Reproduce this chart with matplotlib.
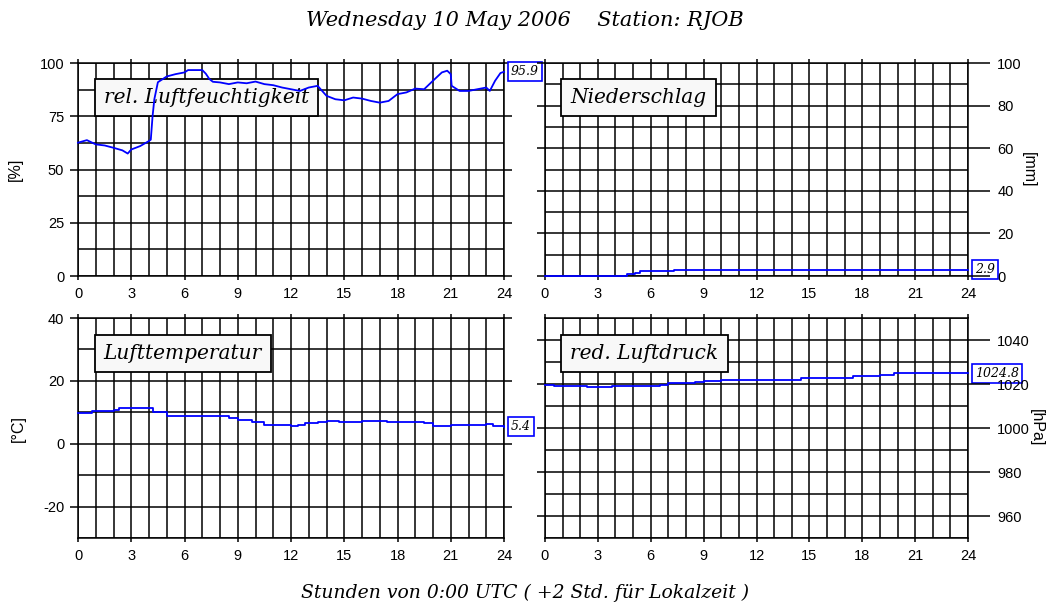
import matplotlib.pyplot as plt

plt.rcParams['axes.unicode_minus'] = False

# relative humidity [%]
rh_hours = [0, 0.5, 1, 1.5, 2, 2.5, 2.8, 3, 3.5, 4, 4.1, 4.2, 4.3, 4.5, 5, 5.5, 6, 6.2,
            7.0, 7.2, 7.4, 7.6, 8, 8.5, 9, 9.5, 10, 10.5, 11, 11.5, 12, 12.5, 13, 13.5,
            14, 14.5, 15, 15.5, 16, 16.5, 17, 17.5, 18, 18.5, 19, 19.5, 20, 20.5, 20.8,
            21, 21.05, 21.5, 22, 22.5, 23, 23.2, 23.5, 23.8, 24]
rh_vals = [62.6, 63.8, 61.8, 61.3, 60.2, 59.0, 57.5, 59.4, 61.0, 63.4, 64.0, 75.0, 83.0,
           91.0, 93.7, 94.8, 95.6, 96.7, 96.7, 95.0, 92.5, 91.2, 90.9, 90.1, 90.9, 90.5,
           91.3, 90.1, 89.6, 88.5, 87.7, 86.9, 88.5, 89.3, 84.6, 83.0, 82.5, 83.8, 83.3,
           82.2, 81.4, 82.2, 85.4, 86.2, 88.0, 87.7, 91.7, 95.6, 96.4, 94.8, 89.3, 86.9,
           86.9, 87.7, 88.5, 86.9, 91.7, 95.3, 95.9]

# accumulated precipitation [mm]
rr_hours = [0, 4.5, 4.65, 5.1, 5.4, 7.3, 24]
rr_vals = [0.0, 0.0, 0.9, 1.6, 2.4, 2.9, 2.9]

# air temperature [degC]
t_hours = [0, 0.8, 2, 2.3, 4, 4.2, 5, 8, 8.5, 9, 9.8, 10.5, 11.8, 12, 12.4, 12.8, 13.5,
           14, 14.7, 16, 17.4, 19.5, 20, 21, 23, 23.4, 24]
t_vals = [9.9, 10.5, 10.7, 11.3, 11.3, 10.2, 8.9, 8.9, 8.3, 7.7, 6.9, 6.1, 6.1, 5.5, 6.1,
          6.6, 6.9, 7.3, 6.8, 7.2, 6.9, 6.7, 5.6, 6.0, 6.3, 5.8, 5.4]

# reduced air pressure [hPa]
p_hours = [0, 0.5, 2.4, 3.8, 6.5, 7, 8.5, 9, 10, 14.5, 17.5, 19, 19.8, 24]
p_vals = [1019.7, 1018.9, 1018.5, 1018.9, 1019.7, 1020.3, 1021.1, 1021.5, 1021.8,
          1022.9, 1023.5, 1024.3, 1025.1, 1024.8]

hour_ticks = list(range(0, 25, 3))

fig = plt.figure(figsize=(10.5, 6.05), dpi=100)
serif = 'DejaVu Serif'
sans = 'Liberation Sans'


def setup(rect, ylim, major, minor, side, ylabel, title, x, vals, steps):
    ax = fig.add_axes(rect)
    ax.set_xlim(0, 24)
    ax.set_ylim(*ylim)
    ax.set_xticks(hour_ticks)
    ax.set_xticks(range(25), minor=True)
    ax.set_yticks(major)
    ax.set_yticks(minor, minor=True)
    ax.grid(True, which='both', color='black', lw=1.1)
    ax.set_axisbelow(True)
    for s in ax.spines.values():
        s.set_linewidth(1.1)
    ax.tick_params(axis='x', which='major', top=True, bottom=True, direction='out',
                   length=3, width=1.1, pad=5, labelsize=10.5)
    ax.tick_params(axis='x', which='minor', length=0)
    ax.tick_params(axis='y', which='minor', length=0)
    for lab in ax.get_xticklabels():
        lab.set_family(sans)

    if side == 'left':
        ax.tick_params(axis='y', which='major', left=True, right=True, direction='out',
                       length=6, width=1.1, pad=4, labelsize=10.5)
        for lab in ax.get_yticklabels():
            lab.set_family(sans)
        ax.set_ylabel(ylabel, family=sans, fontsize=11.5, labelpad=12)
    else:
        ax.tick_params(axis='y', which='major', left=True, right=False, direction='out',
                       length=6, width=1.1, labelleft=False)
        tw = ax.twinx()
        tw.set_ylim(*ylim)
        tw.set_yticks(major)
        tw.tick_params(axis='y', direction='out', length=16, width=1.1, pad=5,
                       labelsize=10.5)
        for lab in tw.get_yticklabels():
            lab.set_family(sans)
        for s in tw.spines.values():
            s.set_visible(False)
        tw.set_ylabel(ylabel, family=sans, fontsize=11.5, rotation=-90, labelpad=10)

    ax.text(0.06, 0.84, title, transform=ax.transAxes, family=serif, style='italic',
            fontsize=14.5, ha='left', va='center', zorder=4,
            bbox=dict(boxstyle='square,pad=0.45', fc='#f8f8f8', ec='black', lw=1.3))

    ds = 'steps-post' if steps else 'default'
    ax.plot(x, vals, color='#0000ff', lw=1.3, drawstyle=ds, zorder=6, clip_on=False)

    ax.annotate(f'{vals[-1]:.1f}', xy=(24, vals[-1]), xytext=(5, 0),
                textcoords='offset points', family=serif, style='italic', fontsize=9,
                ha='left', va='center', annotation_clip=False, zorder=7,
                bbox=dict(boxstyle='square,pad=0.25', fc='white', ec='#0000ff', lw=1.2))
    return ax


setup([0.0743, 0.5438, 0.4057, 0.352], (0, 100), [0, 25, 50, 75, 100],
      [12.5, 37.5, 62.5, 87.5], 'left', '[%]', 'rel. Luftfeuchtigkeit',
      rh_hours, rh_vals, False)
setup([0.519, 0.5438, 0.403, 0.352], (0, 100), [0, 20, 40, 60, 80, 100],
      [10, 30, 50, 70, 90], 'right', '[mm]', 'Niederschlag',
      rr_hours, rr_vals, True)
setup([0.0743, 0.1107, 0.4057, 0.3636], (-30, 40), [-20, 0, 20, 40],
      [-30, -10, 10, 30], 'left', '[°C]', 'Lufttemperatur',
      t_hours, t_vals, True)
setup([0.519, 0.1107, 0.403, 0.3636], (950, 1050), [960, 980, 1000, 1020, 1040],
      [950, 970, 990, 1010, 1030, 1050], 'right', '[hPa]', 'red. Luftdruck',
      p_hours, p_vals, True)

fig.text(0.5, 1 - 20 / 605, 'Wednesday 10 May 2006    Station: RJOB', family=serif,
         style='italic', fontsize=15, ha='center', va='center')
fig.text(0.5, 1 - 593 / 605, 'Stunden von 0:00 UTC ( +2 Std. für Lokalzeit )',
         family=serif, style='italic', fontsize=13.5, ha='center', va='center')

fig.savefig('out.png', dpi=100, facecolor='white')
